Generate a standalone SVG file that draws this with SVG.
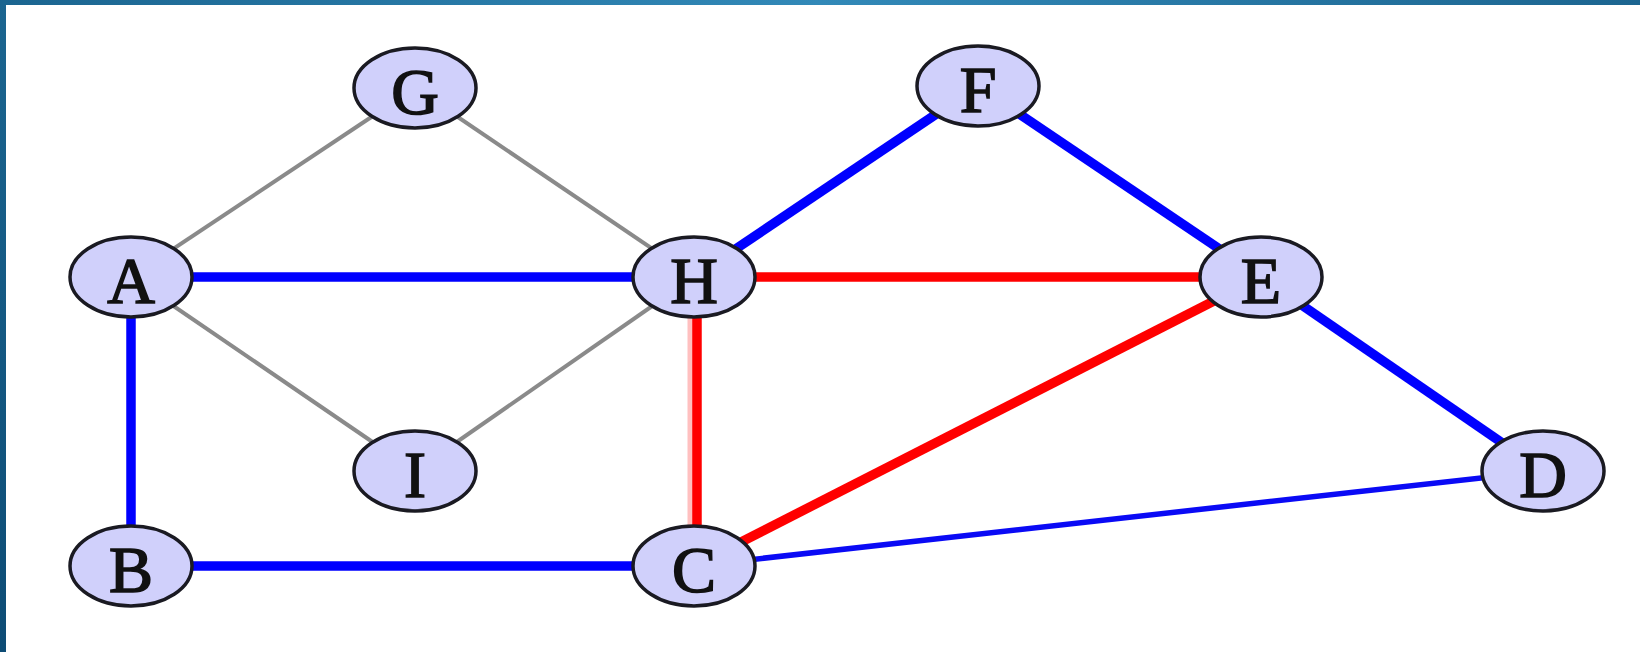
<svg xmlns="http://www.w3.org/2000/svg" width="1640" height="652" viewBox="0 0 1640 652">
<defs>
<linearGradient id="topbar" x1="0" y1="0" x2="1" y2="0">
<stop offset="0" stop-color="#1b6590"/>
<stop offset="0.5" stop-color="#3289b8"/>
<stop offset="1" stop-color="#1c6590"/>
</linearGradient>
<linearGradient id="leftbar" x1="0" y1="0" x2="0" y2="1">
<stop offset="0" stop-color="#1b6590"/>
<stop offset="1" stop-color="#0d4c75"/>
</linearGradient>
<style>
.node ellipse{fill:#d0d0fb;stroke:#1a1a22;stroke-width:3.5}
.node text{font-family:"Liberation Serif","DejaVu Serif",serif;font-size:66px;fill:#111;stroke:#111;stroke-width:1.6;text-anchor:middle;dominant-baseline:central}
.gray{stroke:#8a8a8a;stroke-width:4}
.blue{stroke:#0000ff;stroke-width:9.5}
.blue-thin{stroke:#0a0af5;stroke-width:5.5}
.red{stroke:#ff0000;stroke-width:9.5}
</style>
</defs>
<rect x="0" y="0" width="1640" height="652" fill="#ffffff"/>
<rect x="0" y="0" width="1640" height="5" fill="url(#topbar)"/>
<rect x="0" y="0" width="6" height="652" fill="url(#leftbar)"/>
<g id="connectors">
<line class="gray" x1="131" y1="277" x2="415" y2="88"/>
<line class="gray" x1="415" y1="88" x2="694" y2="277"/>
<line class="gray" x1="131" y1="277" x2="415" y2="471"/>
<line class="gray" x1="415" y1="471" x2="694" y2="277"/>
<line class="blue" x1="131" y1="277" x2="694" y2="277"/>
<line class="blue" x1="131" y1="277" x2="131" y2="566"/>
<line class="blue" x1="131" y1="566" x2="694" y2="566"/>
<line class="blue" x1="694" y1="277" x2="978" y2="86"/>
<line class="blue" x1="978" y1="86" x2="1261" y2="277"/>
<line class="blue" x1="1261" y1="277" x2="1543" y2="471"/>
<line class="blue-thin" x1="694" y1="566" x2="1543" y2="471"/>
<line class="red" x1="694" y1="277" x2="1261" y2="277"/>
<line class="red" x1="694" y1="566" x2="1261" y2="277"/>
<line stroke="#ffc0c0" stroke-width="13" x1="694" y1="277" x2="694" y2="566"/>
<line class="red" x1="697" y1="277" x2="697" y2="566"/>
</g>
<g id="node-G" class="node"><ellipse cx="415" cy="88" rx="61" ry="40"/><text x="415" y="91">G</text></g>
<g id="node-F" class="node"><ellipse cx="978" cy="86" rx="61" ry="40"/><text x="978" y="89">F</text></g>
<g id="node-A" class="node"><ellipse cx="131" cy="277" rx="61" ry="40"/><text x="131" y="280">A</text></g>
<g id="node-H" class="node"><ellipse cx="694" cy="277" rx="61" ry="40"/><text x="694" y="280">H</text></g>
<g id="node-E" class="node"><ellipse cx="1261" cy="277" rx="61" ry="40"/><text x="1261" y="280">E</text></g>
<g id="node-I" class="node"><ellipse cx="415" cy="471" rx="61" ry="40"/><text x="415" y="474">I</text></g>
<g id="node-D" class="node"><ellipse cx="1543" cy="471" rx="61" ry="40"/><text x="1543" y="474">D</text></g>
<g id="node-B" class="node"><ellipse cx="131" cy="566" rx="61" ry="40"/><text x="131" y="569">B</text></g>
<g id="node-C" class="node"><ellipse cx="694" cy="566" rx="61" ry="40"/><text x="694" y="569">C</text></g>
</svg>
